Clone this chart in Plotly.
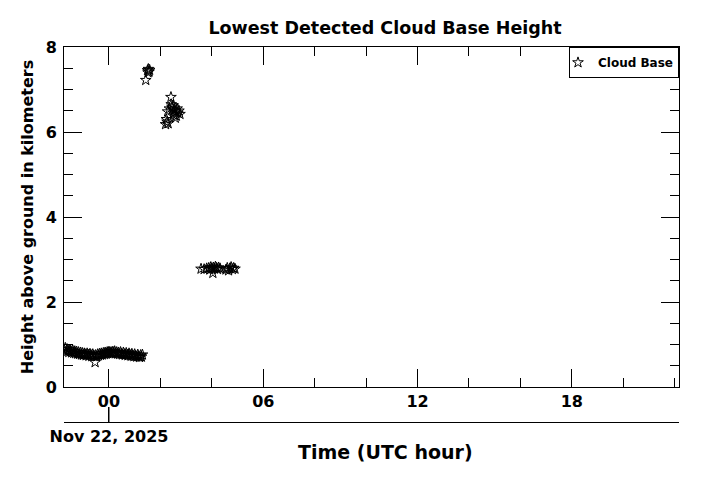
import plotly.graph_objects as go

# cloud base detections, time in UTC hours relative to Nov 22, 2025 00:00
low_hours = [-1.74, -1.70, -1.67, -1.63, -1.59, -1.56, -1.52, -1.48, -1.45, -1.41,
             -1.37, -1.33, -1.30, -1.26, -1.22, -1.19, -1.15, -1.11, -1.07, -1.04,
             -1.00, -0.96, -0.93, -0.89, -0.85, -0.81, -0.78, -0.74, -0.70, -0.67,
             -0.63, -0.59, -0.54, -0.52, -0.48, -0.44, -0.41, -0.37, -0.33, -0.30,
             -0.26, -0.22, -0.18, -0.15, -0.11, -0.07, -0.04, 0.00, 0.04, 0.08,
             0.11, 0.15, 0.19, 0.22, 0.26, 0.30, 0.34, 0.37, 0.41, 0.45,
             0.48, 0.52, 0.56, 0.60, 0.63, 0.67, 0.71, 0.74, 0.78, 0.82,
             0.86, 0.89, 0.93, 0.97, 1.00, 1.04, 1.08, 1.12, 1.15, 1.19,
             1.23, 1.26, 1.30]
low_km = [0.86, 0.92, 0.83, 0.89, 0.85, 0.82, 0.88, 0.84, 0.81, 0.86,
          0.80, 0.84, 0.79, 0.83, 0.78, 0.82, 0.77, 0.81, 0.76, 0.80,
          0.75, 0.79, 0.77, 0.74, 0.79, 0.76, 0.73, 0.78, 0.75, 0.72,
          0.77, 0.74, 0.58, 0.75, 0.72, 0.77, 0.74, 0.78, 0.75, 0.79,
          0.76, 0.80, 0.77, 0.81, 0.78, 0.82, 0.79, 0.83, 0.80, 0.82,
          0.79, 0.83, 0.80, 0.84, 0.79, 0.82, 0.78, 0.81, 0.77, 0.82,
          0.78, 0.76, 0.81, 0.77, 0.75, 0.80, 0.76, 0.74, 0.79, 0.75,
          0.73, 0.78, 0.74, 0.72, 0.77, 0.73, 0.71, 0.76, 0.72, 0.70,
          0.75, 0.71, 0.76]

high_hours = [1.43, 1.50, 1.53, 1.56, 1.52, 1.58,
              2.41, 2.26, 2.20, 2.23, 2.28, 2.35, 2.45, 2.50, 2.55, 2.60,
              2.65, 2.68, 2.62, 2.58, 2.72, 2.76, 2.52, 2.48, 2.42, 2.30]
high_km = [7.22, 7.45, 7.48, 7.42, 7.40, 7.46,
           6.82, 6.24, 6.18, 6.30, 6.48, 6.55, 6.59, 6.62, 6.52, 6.48,
           6.55, 6.45, 6.38, 6.33, 6.50, 6.42, 6.40, 6.55, 6.65, 6.20]

mid_hours = [3.58, 3.70, 3.80, 3.88, 3.92, 3.96, 4.00, 4.04, 4.06, 4.10, 4.14, 4.18,
             4.22, 4.26, 4.32, 4.55, 4.60, 4.65, 4.70, 4.75, 4.80, 4.85, 4.90]
mid_km = [2.78, 2.77, 2.79, 2.80, 2.76, 2.82, 2.79, 2.68, 2.81, 2.78, 2.83, 2.80,
          2.77, 2.81, 2.79, 2.76, 2.80, 2.74, 2.79, 2.82, 2.77, 2.80, 2.78]

major_hours = [0, 6, 12, 18]
major_labels = ['00', '06', '12', '18']
minor_hours = [2, 4, 8, 10, 14, 16, 20, 22]
date_tick = 0
date_label = 'Nov 22, 2025'
x_range = [-1.75, 22.17]

bold = dict(family='DejaVu Sans', color='black', weight='bold')

fig = go.Figure()
fig.add_trace(go.Scatter(
    x=low_hours + high_hours + mid_hours,
    y=low_km + high_km + mid_km,
    mode='markers', name='Cloud Base',
    marker=dict(symbol='star-open', size=8, color='black', line=dict(width=1, color='black'))))
# empty trace so the date axis gets drawn
fig.add_trace(go.Scatter(x=[], y=[], xaxis='x2', showlegend=False))

# page body adds 8px, so margins are shifted to keep the frame where it should be
fig.update_layout(
    width=701, height=480,
    margin=dict(l=56, r=30, t=39, b=66),
    plot_bgcolor='white', paper_bgcolor='white',
    title=dict(text='Lowest Detected Cloud Base Height', x=0.522, xref='paper', xanchor='center',
               y=1 - 20 / 480, yref='container', yanchor='middle', font=dict(size=17.5, **bold)),
    showlegend=True,
    legend=dict(x=1, y=1, xanchor='right', yanchor='top', bgcolor='white',
                bordercolor='black', borderwidth=1, itemwidth=30, indentation=-12,
                font=dict(size=12, **bold)),
    xaxis=dict(range=x_range, tickvals=major_hours, ticktext=major_labels,
               ticks='inside', ticklen=18, tickcolor='black', tickwidth=1,
               minor=dict(tickvals=minor_hours, ticks='inside', ticklen=9, tickcolor='black'),
               showline=True, linecolor='black', linewidth=1, mirror='ticks',
               showgrid=False, zeroline=False, tickfont=dict(size=16, **bold), anchor='y'),
    xaxis2=dict(range=x_range, overlaying='x', anchor='free', position=0, side='bottom',
                tickvals=[date_tick], ticktext=[date_label], ticks='inside', ticklen=15,
                tickcolor='black', showline=True, linecolor='black', linewidth=1,
                showgrid=False, zeroline=False, tickfont=dict(size=16, **bold)),
    yaxis=dict(range=[0, 8], domain=[35 / 375, 1], dtick=2, tick0=0,
               ticks='inside', ticklen=18, tickcolor='black', tickwidth=1,
               minor=dict(dtick=0.5, tick0=0, ticks='inside', ticklen=9, tickcolor='black'),
               showline=True, linecolor='black', linewidth=1, mirror='ticks',
               showgrid=False, zeroline=False, tickfont=dict(size=16, **bold),
               ticklabelstandoff=3,
               title=dict(text='Height above ground in kilometers', standoff=8,
                          font=dict(size=16, **bold))),
)

# date tick rising from the lower axis line
fig.add_shape(type='line', xref='x', yref='paper', x0=date_tick, x1=date_tick,
              y0=0, y1=15 / 375, line=dict(color='black', width=1))

fig.add_annotation(text='Time (UTC hour)', x=0.522, xref='paper', y=-30 / 375, yref='paper',
                   xanchor='center', yanchor='middle', showarrow=False, font=dict(size=19, **bold))

fig.write_html("out.html")
